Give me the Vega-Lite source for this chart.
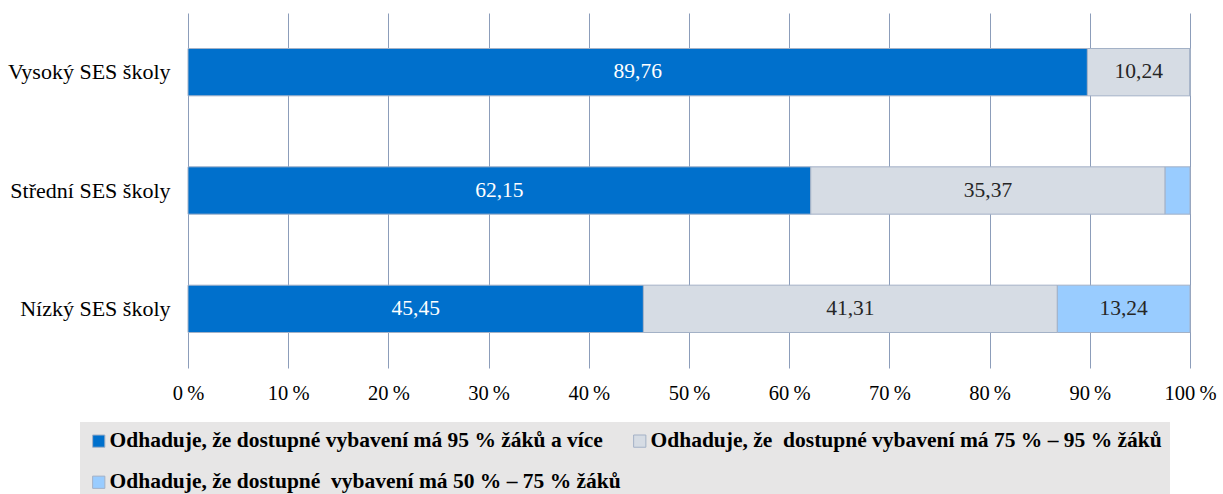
{
  "$schema": "https://vega.github.io/schema/vega-lite/v6.json",
  "width": 1002,
  "height": 355,
  "autosize": "none",
  "padding": {"left": 188, "top": 13, "right": 33, "bottom": 126},
  "background": "white",
  "config": {
    "font": "Liberation Serif, Times New Roman, serif",
    "view": {"stroke": null},
    "locale": {"number": {"decimal": ",", "thousands": " ", "grouping": [3], "currency": ["", " Kč"]}}
  },
  "data": {
    "values": [
      {"cat": "Vysoký SES školy", "series": "Odhaduje, že dostupné vybavení má 95 % žáků a více", "order": 1, "value": 89.76},
      {"cat": "Vysoký SES školy", "series": "Odhaduje, že\u00a0 dostupné vybavení má 75 % – 95 % žáků", "order": 2, "value": 10.24},
      {"cat": "Vysoký SES školy", "series": "Odhaduje, že dostupné\u00a0 vybavení má 50 % – 75 % žáků", "order": 3, "value": 0},
      {"cat": "Střední SES školy", "series": "Odhaduje, že dostupné vybavení má 95 % žáků a více", "order": 1, "value": 62.15},
      {"cat": "Střední SES školy", "series": "Odhaduje, že\u00a0 dostupné vybavení má 75 % – 95 % žáků", "order": 2, "value": 35.37},
      {"cat": "Střední SES školy", "series": "Odhaduje, že dostupné\u00a0 vybavení má 50 % – 75 % žáků", "order": 3, "value": 2.48},
      {"cat": "Nízký SES školy", "series": "Odhaduje, že dostupné vybavení má 95 % žáků a více", "order": 1, "value": 45.45},
      {"cat": "Nízký SES školy", "series": "Odhaduje, že\u00a0 dostupné vybavení má 75 % – 95 % žáků", "order": 2, "value": 41.31},
      {"cat": "Nízký SES školy", "series": "Odhaduje, že dostupné\u00a0 vybavení má 50 % – 75 % žáků", "order": 3, "value": 13.24}
    ]
  },
  "transform": [
    {"stack": "value", "groupby": ["cat"], "sort": [{"field": "order"}], "as": ["v0", "v1"]},
    {"calculate": "(datum.v0 + datum.v1) / 2", "as": "mid"}
  ],
  "encoding": {
    "y": {
      "field": "cat", "type": "nominal",
      "sort": ["Vysoký SES školy", "Střední SES školy", "Nízký SES školy"],
      "scale": {"paddingInner": 0.6, "paddingOuter": 0.3},
      "axis": {"title": null, "ticks": false, "domain": false, "labelFontSize": 22, "labelColor": "#000000", "labelPadding": 18, "labelLimit": 0}
    }
  },
  "layer": [
    {
      "mark": {"type": "bar", "stroke": "#a3b1c6", "strokeWidth": 1},
      "encoding": {
        "x": {
          "field": "v0", "type": "quantitative",
          "scale": {"domain": [0, 100], "nice": false},
          "axis": {
            "title": null, "values": [0, 10, 20, 30, 40, 50, 60, 70, 80, 90, 100],
            "labelExpr": "datum.value + '\u2009%'", "grid": true, "gridColor": "#8c9dba", "gridWidth": 1,
            "domain": false, "ticks": false, "labelFontSize": 20.5, "labelColor": "#000000",
            "labelPadding": 15, "labelFlush": false
          }
        },
        "x2": {"field": "v1"},
        "color": {
          "field": "series", "type": "nominal",
          "scale": {
            "domain": ["Odhaduje, že dostupné vybavení má 95 % žáků a více", "Odhaduje, že\u00a0 dostupné vybavení má 75 % – 95 % žáků", "Odhaduje, že dostupné\u00a0 vybavení má 50 % – 75 % žáků"],
            "range": ["#0070cc", "#d6dce4", "#99ccff"]
          },
          "legend": {
            "title": null, "orient": "none", "legendX": -108, "legendY": 409,
            "direction": "horizontal", "columns": 2, "columnPadding": 8, "rowPadding": 18.5,
            "fillColor": "#e7e6e6", "padding": 8,
            "symbolType": "square", "symbolSize": 150, "symbolStrokeColor": "#a3b1c6", "symbolStrokeWidth": 1, "symbolOpacity": 1,
            "labelFontWeight": "bold", "labelFontSize": 21.5, "labelColor": "#000000",
            "labelLimit": 0, "labelOffset": 0
          }
        }
      }
    },
    {
      "transform": [{"filter": "datum.value > 5"}],
      "mark": {"type": "text", "fontSize": 21.5},
      "encoding": {
        "x": {"field": "mid", "type": "quantitative"},
        "text": {"field": "value", "type": "quantitative", "format": ".2f"},
        "color": {"condition": {"test": "datum.order == 1", "value": "#ffffff"}, "value": "#262626"}
      }
    }
  ]
}
